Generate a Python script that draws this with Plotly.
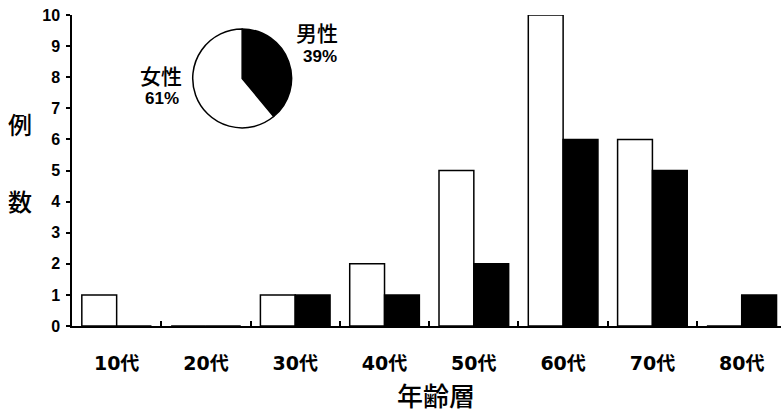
import plotly.graph_objects as go

categories = ["10代", "20代", "30代", "40代", "50代", "60代", "70代", "80代"]
female = [1, 0, 1, 2, 5, 10, 6, 0]
male = [0, 0, 1, 1, 2, 6, 5, 1]
pie_labels = ["男性", "女性"]
pie_values = [39, 61]
y_ticks = list(range(0, 11))

FONT = "Liberation Sans, Arial, Noto Sans CJK JP"
XFONT = "DejaVu Sans, Noto Sans CJK JP"

fig = go.Figure()
fig.add_trace(go.Bar(x=categories, y=female, name="女性",
                     marker=dict(color="white", line=dict(color="black", width=1.5)),
                     cliponaxis=False))
fig.add_trace(go.Bar(x=categories, y=male, name="男性",
                     marker=dict(color="black", line=dict(color="black", width=1.5)),
                     cliponaxis=False))
fig.add_trace(go.Pie(labels=pie_labels, values=pie_values, sort=False,
                     direction="clockwise", rotation=0,
                     marker=dict(colors=["black", "white"], line=dict(color="black", width=1.5)),
                     textinfo="none", hoverinfo="label+percent",
                     domain=dict(x=[0.170, 0.310], y=[0.637, 0.955]),
                     showlegend=False))

fig.update_layout(
    width=781, height=413,
    margin=dict(l=72, r=0, t=15, b=87, autoexpand=False),
    paper_bgcolor="white", plot_bgcolor="white",
    barmode="group", bargap=0.22, bargroupgap=0,
    showlegend=False,
    font=dict(family=FONT, color="black"),
    xaxis=dict(range=[-0.5, 7.44], showline=True, linecolor="black", linewidth=1.5,
               ticks="inside", tickson="boundaries", ticklen=5, tickcolor="black",
               tickwidth=1.5, showgrid=False, ticklabelstandoff=19, automargin=False,
               tickfont=dict(size=19, family=XFONT, weight="bold")),
    yaxis=dict(range=[0, 10], tickvals=y_ticks, showline=True, linecolor="black",
               linewidth=1.5, ticks="outside", ticklen=4, tickcolor="black", tickwidth=1.5,
               showgrid=False, zeroline=False, ticklabelstandoff=3, automargin=False,
               tickfont=dict(size=16, family=FONT, weight="bold")),
)

# convert pixel positions to paper coords
def px(xp):
    return (xp - 72) / 709
def py(yp):
    return (326 - yp) / 311

labels = [
    ("年齢層", 436, 397, 26, 500),
    ("例", 20, 125, 24, 500),
    ("数", 20, 202, 24, 500),
    ("男性", 317, 34, 21, 500),
    (f"{pie_values[0]}%", 320, 57, 17, "bold"),
    ("女性", 161, 76, 21, 500),
    (f"{pie_values[1]}%", 162, 99, 17, "bold"),
]
for text, xp, yp, size, w in labels:
    fig.add_annotation(text=text, x=px(xp), y=py(yp), xref="paper", yref="paper",
                       xanchor="center", yanchor="middle", showarrow=False,
                       font=dict(size=size, family=FONT, weight=w))

fig.write_html("out.html", config={"displayModeBar": False},
               post_script="document.body.style.margin='0';")
